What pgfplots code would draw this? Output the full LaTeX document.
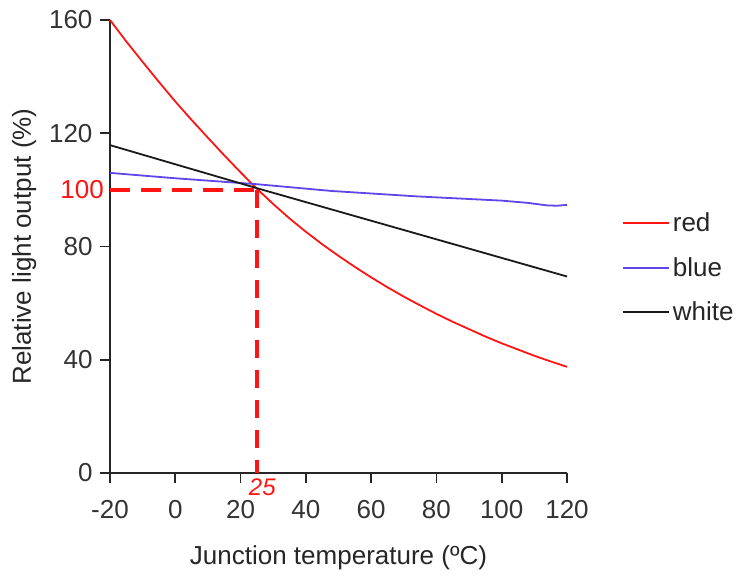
\documentclass[border=0pt]{standalone}
\usepackage{pgfplots}
\pgfplotsset{compat=1.18}
\usepackage{fontspec}
\setmainfont{Liberation Sans}
\definecolor{cred}{RGB}{255,20,20}
\definecolor{cblue}{RGB}{95,70,235}
\begin{document}
\begin{tikzpicture}
\useasboundingbox (0,0) rectangle (743pt,575pt);
\begin{axis}[
  at={(110pt,102pt)}, anchor=south west,
  scale only axis, width=457pt, height=453pt,
  xmin=-20, xmax=120, ymin=0, ymax=160,
  xtick={-20,0,20,40,60,80,100,120},
  ytick={0,40,80,120,160},
  axis lines=left, axis line style={-, line width=1.8pt, black!85},
  tick align=outside, major tick length=10pt,
  tick style={line width=1.6pt, black!85},
  /pgf/number format/assume math mode=true,
  ticklabel style={font=\fontsize{26}{30}\selectfont, text=black!80},
  xticklabel style={yshift=-14pt},
  yticklabel style={xshift=-4pt},
  label style={font=\fontsize{26}{30}\selectfont, text=black!85},
  xlabel={Junction temperature (ºC)},
  ylabel={Relative light output (\%)},
  xlabel style={yshift=-20pt},
  ylabel style={yshift=6pt},
  legend style={at={(1.12,0.605)}, anchor=north west, draw=none, fill=none,
    font=\fontsize{26}{30}\selectfont, text=black!85,
    inner xsep=0pt, nodes={inner xsep=3pt, inner ysep=12pt}},
  legend cell align=left,
  legend image code/.code={\draw[#1] (0pt,0pt) -- (46pt,0pt);},
  clip=false,
]
\addplot[color=cred, line width=1.8pt, line join=round] coordinates {
(-20,160) (-15,152.4) (-10,145.2) (-5,138.1) (0,131.2) (5,124.7) (10,118.4) (15,112.2) (20,106.2) (25,100.4) (30,95.0) (35,89.9) (40,85.2) (45,80.8) (50,76.7) (55,72.8) (60,69.1) (65,65.6) (70,62.3) (75,59.2) (80,56.2) (85,53.4) (90,50.8) (95,48.2) (100,45.8) (105,43.6) (110,41.4) (115,39.4) (120,37.5)};
\addlegendentry{red}
\addplot[color=cblue, line width=1.8pt, line join=round] coordinates {
(-20,106) (0,104.1) (25,102) (48,99.6) (74,97.7) (100,96.2) (108,95.4) (114,94.5) (117,94.4) (120,94.7)};
\addlegendentry{blue}
\addplot[color=black!90, line width=1.8pt] coordinates {
(-20,115.8) (25,100.6) (120,69.4)};
\addlegendentry{white}
\addplot[cred, line width=4pt, dash pattern=on 20pt off 11pt, forget plot] coordinates {(-20,100) (25,100)};
\addplot[cred, line width=4pt, dash pattern=on 18pt off 12pt, forget plot] coordinates {(25,100) (25,0)};
\node[anchor=east, text=cred, font=\fontsize{26}{30}\selectfont, inner sep=0pt] at ([xshift=-6pt]axis cs:-20,100) {100};
\node[anchor=north west, text=cred, font=\fontsize{24}{28}\selectfont\itshape, inner sep=0pt] at ([yshift=-6pt]axis cs:22.5,0) {25};
\end{axis}
\end{tikzpicture}
\end{document}
